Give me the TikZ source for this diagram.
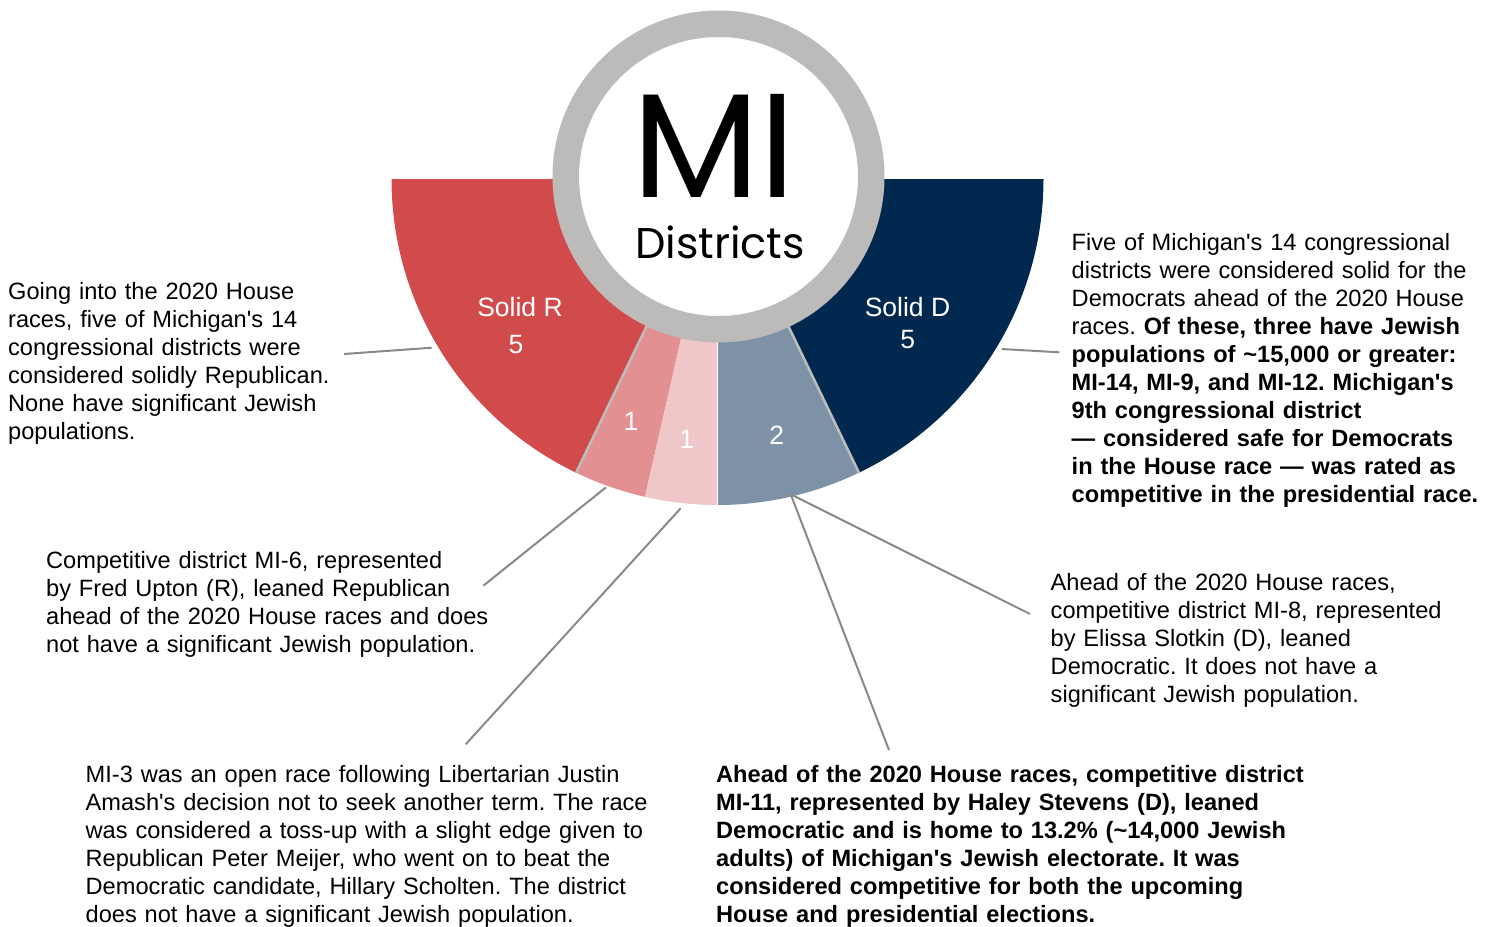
\documentclass[tikz,border=0pt]{standalone}
\usepackage{fontspec}
\newfontfamily\bodyfont{Liberation Sans}
\newfontfamily\popfont{Poppins}
\definecolor{solR}{HTML}{D24B4C}
\definecolor{leanR}{HTML}{E39092}
\definecolor{tossup}{HTML}{F0C7C8}
\definecolor{leanD}{HTML}{7D92A6}
\definecolor{solD}{HTML}{01284E}
\definecolor{ringgray}{HTML}{BCBBB9}
\definecolor{sepgray}{HTML}{BDBDBD}
\definecolor{leadgray}{HTML}{898989}
\frenchspacing
\begin{document}
\frenchspacing
\begin{tikzpicture}[x=1pt,y=-1pt,
  slicelab/.style={font=\bodyfont\fontsize{26.5}{30}\selectfont, text=white, inner sep=0, anchor=base},
  note/.style={font=\bodyfont\fontsize{23.6}{28}\selectfont\frenchspacing, text width=640pt, align=left, inner sep=0, anchor=north west},
  leader/.style={draw=leadgray, line width=2pt},
  sep/.style={draw=sepgray, line width=2.5pt}]
\useasboundingbox (0,0) rectangle (1496,926);
\fill[white] (0,0) rectangle (1496,926);
\coordinate (C) at (717.5,179);
% wedges
\fill[solR] ([shift={(180:326)}]C) arc[start angle=180,end angle=115.714,radius=326]
  -- ([shift={(115.714:150)}]C) arc[start angle=115.714,end angle=180,radius=150] -- cycle;
\fill[leanR] ([shift={(115.714:326)}]C) arc[start angle=115.714,end angle=102.857,radius=326]
  -- ([shift={(102.857:150)}]C) arc[start angle=102.857,end angle=115.714,radius=150] -- cycle;
\fill[tossup] ([shift={(102.857:326)}]C) arc[start angle=102.857,end angle=90,radius=326]
  -- ([shift={(90:150)}]C) arc[start angle=90,end angle=102.857,radius=150] -- cycle;
\fill[leanD] ([shift={(90:326)}]C) arc[start angle=90,end angle=64.286,radius=326]
  -- ([shift={(64.286:150)}]C) arc[start angle=64.286,end angle=90,radius=150] -- cycle;
\fill[solD] ([shift={(64.286:326)}]C) arc[start angle=64.286,end angle=0,radius=326]
  -- ([shift={(0:150)}]C) arc[start angle=0,end angle=64.286,radius=150] -- cycle;
% separators
\coordinate (s1a) at ([shift={(115.714:160)}]C);
\coordinate (s1b) at ([shift={(115.714:326)}]C);
\coordinate (s2a) at ([shift={(64.286:160)}]C);
\coordinate (s2b) at ([shift={(64.286:326)}]C);
\coordinate (s3a) at ([shift={(90:160)}]C);
\coordinate (s3b) at ([shift={(90:326)}]C);
\draw[sep] (s1a) -- (s1b);
\draw[sep] (s2a) -- (s2b);
\draw[white, line width=0.8pt] (s3a) -- (s3b);
% ring
\node[circle, draw=ringgray, line width=26.5pt, fill=white, minimum size=305.5pt, inner sep=0] (ring) at (718.5,176.5) {};
\node[font=\popfont\fontsize{148}{150}\selectfont, inner sep=0, anchor=base, text height=104pt, text depth=0pt] (mi) at (714,197) {MI};
\node[font=\popfont\fontsize{43}{45}\selectfont, inner sep=0, anchor=base, text height=31pt, text depth=0pt] (dist) at (720,258) {Districts};
% slice labels
\node[slicelab] (sr) at (520,316.7) {Solid R};
\node[slicelab] (srn) at (516,353.3) {5};
\node[slicelab] (sd) at (907.5,316.7) {Solid D};
\node[slicelab] (sdn) at (907.7,348.3) {5};
\node[slicelab] (lrn) at (631,430.7) {1};
\node[slicelab] (tun) at (686.7,448.3) {1};
\node[slicelab] (ldn) at (776.7,444) {2};
% notes
\node[note] (nR) at (8,281) {\rule{0pt}{18pt}Going into the 2020 House\\races, five of Michigan's 14\\congressional districts were\\considered solidly Republican.\\None have significant Jewish\\populations.};
\node[note] (n6) at (46,550.7) {\rule{0pt}{18pt}Competitive district MI-6, represented\\by Fred Upton (R), leaned Republican\\ahead of the 2020 House races and does\\not have a significant Jewish population.};
\node[note] (n3) at (85.5,764) {\rule{0pt}{18pt}MI-3 was an open race following Libertarian Justin\\Amash's decision not to seek another term. The race\\was considered a toss-up with a slight edge given to\\Republican Peter Meijer, who went on to beat the\\Democratic candidate, Hillary Scholten. The district\\does not have a significant Jewish population.};
\node[note, font=\bodyfont\bfseries\fontsize{23.6}{28}\selectfont\frenchspacing] (n11) at (716,764) {\rule{0pt}{18pt}Ahead of the 2020 House races, competitive district\\MI-11, represented by Haley Stevens (D), leaned\\Democratic and is home to 13.2\% (\textasciitilde14,000 Jewish\\adults) of Michigan's Jewish electorate. It was\\considered competitive for both the upcoming\\House and presidential elections.};
\node[note] (n8) at (1050.5,572) {\rule{0pt}{18pt}Ahead of the 2020 House races,\\competitive district MI-8, represented\\by Elissa Slotkin (D), leaned\\Democratic. It does not have a\\significant Jewish population.};
\node[note] (nD) at (1071.5,232.7) {\rule{0pt}{18pt}Five of Michigan's 14 congressional\\districts were considered solid for the\\Democrats ahead of the 2020 House\\races. \textbf{Of these, three have Jewish}\\\textbf{populations of \textasciitilde15,000 or greater:}\\\textbf{MI-14, MI-9, and MI-12. Michigan's}\\\textbf{9th congressional district}\\\textbf{— considered safe for Democrats}\\\textbf{in the House race — was rated as}\\\textbf{competitive in the presidential race.}};
% leader lines
\coordinate (l1a) at (344,354);     \coordinate (l1b) at (431.7,347.7);
\coordinate (l2a) at (483.3,585.7); \coordinate (l2b) at (606,487.3);
\coordinate (l3a) at (465.7,744.3); \coordinate (l3b) at (680.7,508.3);
\coordinate (l4a) at (889,750);     \coordinate (l4b) at (790.7,494.3);
\coordinate (l5a) at (1030,614);
\coordinate (l6a) at (1001.7,349);  \coordinate (l6b) at (1059.3,352.3);
\draw[leader] (l1a) -- (l1b);
\draw[leader] (l2a) -- (l2b);
\draw[leader] (l3a) -- (l3b);
\draw[leader] (l4a) -- (l4b);
\draw[leader] (l5a) -- (l4b);
\draw[leader] (l6a) -- (l6b);
\end{tikzpicture}
\end{document}
